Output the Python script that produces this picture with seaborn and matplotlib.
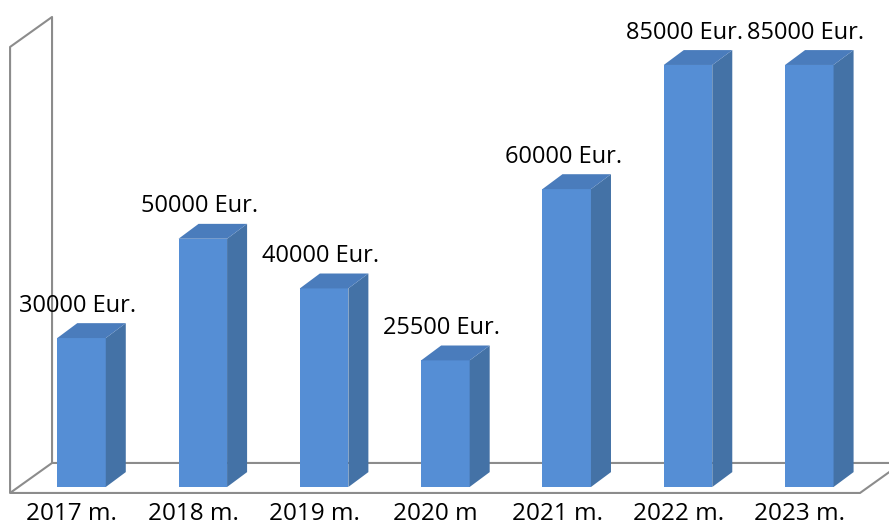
import numpy as np
import pandas as pd
import seaborn as sns
import matplotlib.pyplot as plt
from matplotlib.patches import Polygon

# duomenys
years = ['2017 m.', '2018 m.', '2019 m.', '2020 m', '2021 m.', '2022 m.', '2023 m.']
amounts = [30000, 50000, 40000, 25500, 60000, 85000, 85000]
labels = [f'{a} Eur.' for a in amounts]

df = pd.DataFrame({'metai': years, 'suma': amounts})

sns.set_theme(style='white')
plt.rcParams['font.family'] = ['Open Sans', 'DejaVu Sans']

front = '#558ed5'
side = '#4472a6'
top = '#4a7cbc'
line_col = '#8c8c8c'

fig = plt.figure(figsize=(8.89, 5.26), dpi=100)
ax = fig.add_axes([0, 0, 1, 1])
sns.barplot(data=df, x='metai', y='suma', color=front, width=0.4,
            saturation=1, ax=ax, zorder=3, linewidth=0)
bars = list(ax.patches)
ax.set_xlim(-0.672, 6.657)
ax.set_ylim(-7855, 98087)
ax.axis('off')

# "3D" gylis: stulpeliu ir grindu
bdx, bdy = 0.165, 3000
fdx, fdy = 0.346, 6040
y0 = -1200
xl, xr = -0.589, 6.418
wall_h = 89830

# grindys
floor = Polygon([(xl, y0), (xr, y0), (xr + fdx, y0 + fdy), (xl + fdx, y0 + fdy)],
                closed=True, facecolor='white', edgecolor=line_col, lw=1.5, zorder=1)
ax.add_patch(floor)
# kaire siena
ax.plot([xl, xl, xl + fdx, xl + fdx], [y0, y0 + wall_h, y0 + fdy + wall_h, y0 + fdy],
        color=line_col, lw=1.5, zorder=1)

# sonines ir virsutines plokstumos
for p in bars:
    x0 = p.get_x()
    x1 = x0 + p.get_width()
    h = p.get_height()
    ax.add_patch(Polygon([(x1, 0), (x1 + bdx, bdy), (x1 + bdx, h + bdy), (x1, h)],
                         closed=True, facecolor=side, edgecolor='none', zorder=3))
    ax.add_patch(Polygon([(x0, h), (x1, h), (x1 + bdx, h + bdy), (x0 + bdx, h + bdy)],
                         closed=True, facecolor=top, edgecolor='none', zorder=3))

for i, (v, lab) in enumerate(zip(amounts, labels)):
    ax.text(i - 0.03, v + 5300, lab, ha='center', va='baseline', fontsize=17, color='black')
    ax.text(i - 0.08, -6650, years[i], ha='center', va='baseline', fontsize=17.5, color='black')

fig.savefig('out.png', dpi=100)
